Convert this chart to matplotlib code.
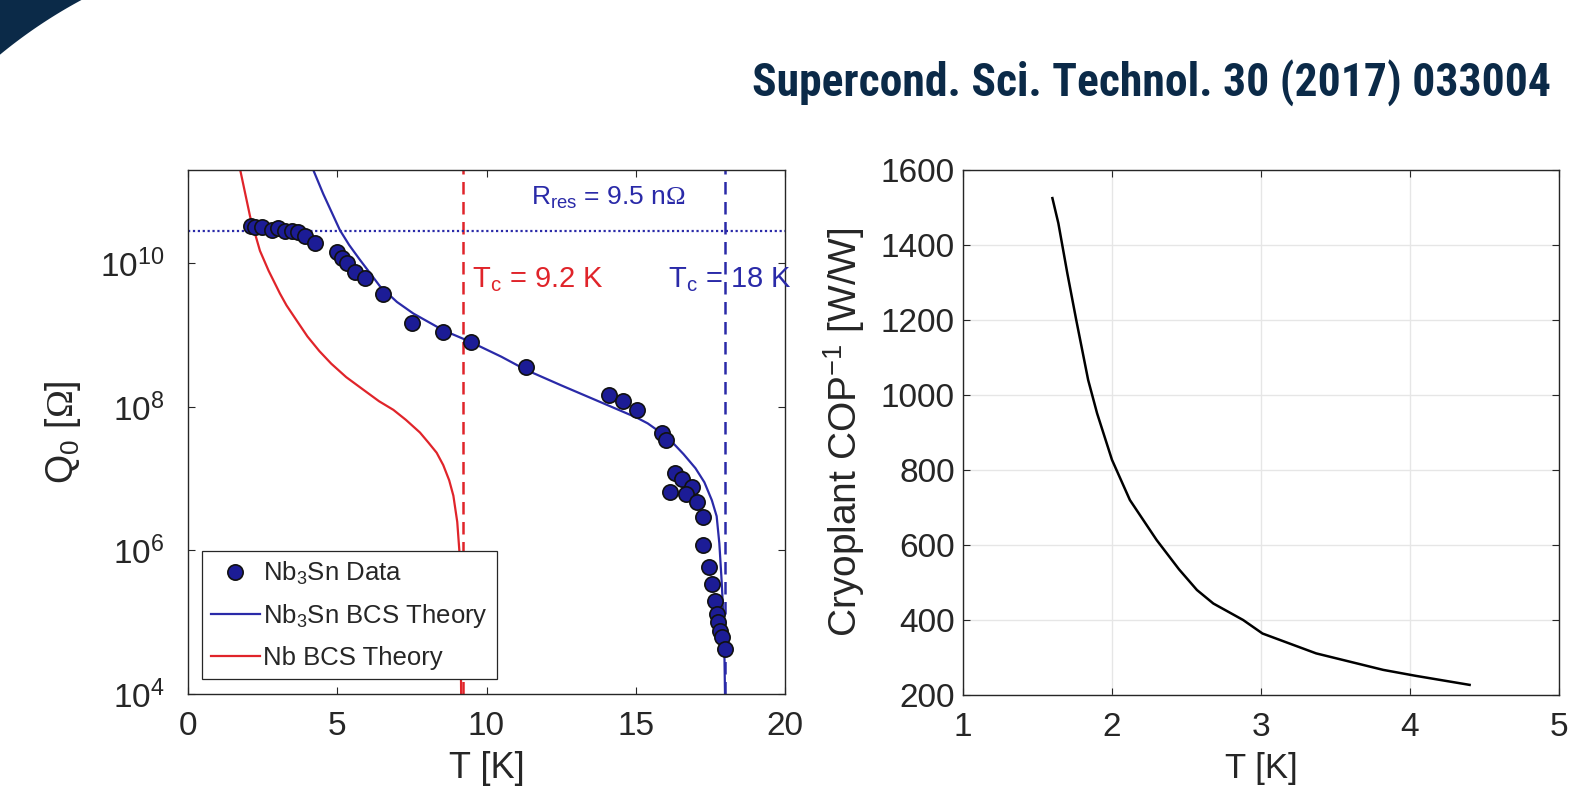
# Two panels: Q0 vs T for Nb3Sn / Nb (log scale) and cryoplant inverse COP vs T.

import numpy as np
import matplotlib
matplotlib.use("Agg")
import matplotlib.pyplot as plt
from matplotlib import font_manager
from matplotlib.patches import Polygon

# =========================
# 1) DATA (read off the picture)
# =========================
# Nb3Sn measured points
T_DATA = [2.11, 2.24, 2.47, 2.80, 3.03, 3.25, 3.47, 3.70, 3.92, 4.25,
          4.98, 5.15, 5.31, 5.60, 5.93, 6.52, 7.49, 8.55, 9.47, 11.31,
          14.10, 14.58, 15.03, 15.87, 16.03, 16.31, 16.54, 16.15, 16.87, 16.70,
          17.06, 17.24, 17.24, 17.46, 17.57, 17.65, 17.73, 17.76, 17.82, 17.88,
          17.99]
Q_DATA = [3.3e10, 3.2e10, 3.2e10, 2.9e10, 3.1e10, 2.8e10, 2.8e10, 2.75e10, 2.4e10, 1.9e10,
          1.45e10, 1.17e10, 1.0e10, 7.6e9, 6.3e9, 3.8e9, 1.5e9, 1.1e9, 7.9e8, 3.6e8,
          1.48e8, 1.2e8, 9.1e7, 4.4e7, 3.5e7, 1.2e7, 1.0e7, 6.5e6, 7.6e6, 6.2e6,
          4.8e6, 2.9e6, 1.2e6, 5.8e5, 3.4e5, 2.0e5, 1.3e5, 1.0e5, 7.6e4, 6.2e4,
          4.3e4]

# Nb3Sn BCS theory curve
T_NB3SN = [4.10, 4.53, 5.09, 5.40, 5.76, 6.10, 6.43, 7.00, 7.55, 8.55,
           9.45, 10.5, 11.31, 12.5, 14.03, 15.03, 15.40, 15.80, 16.20, 16.60,
           17.00, 17.30, 17.55, 17.71, 17.80, 17.88, 17.96, 17.99]
Q_NB3SN = [2.5e11, 9.3e10, 2.9e10, 1.8e10, 1.12e10, 7.3e9, 4.8e9, 2.9e9, 2.0e9, 1.17e9,
           8.1e8, 5.0e8, 3.3e8, 2.0e8, 1.07e8, 7.1e7, 5.9e7, 4.5e7, 3.3e7, 2.2e7,
           1.4e7, 8.9e6, 5.0e6, 3.0e6, 1.26e6, 3.6e5, 7.2e4, 1.0e4]

# Nb BCS theory curve
T_NB = [1.70, 2.08, 2.41, 2.70, 3.08, 3.30, 3.64, 4.00, 4.40, 4.80,
        5.30, 5.87, 6.40, 6.88, 7.30, 7.77, 8.05, 8.33, 8.55, 8.75,
        8.89, 9.02, 9.09, 9.13, 9.15]
Q_NB = [2.5e11, 4.5e10, 1.5e10, 7.9e9, 3.8e9, 2.6e9, 1.6e9, 9.6e8, 6.0e8, 4.0e8,
        2.6e8, 1.74e8, 1.2e8, 9.1e7, 6.6e7, 4.4e7, 3.2e7, 2.3e7, 1.55e7, 9.5e6,
        5.8e6, 2.5e6, 1.0e6, 1.0e5, 1.0e4]

TC_NB = 9.2
TC_NB3SN = 18.0
Q_RES = 2.84e10

# Cryoplant inverse COP
T_COP = [1.60, 1.64, 1.70, 1.76, 1.84, 1.90, 2.00, 2.12, 2.30, 2.45,
         2.57, 2.68, 2.88, 3.01, 3.37, 3.82, 4.04, 4.40]
COP_INV = [1525, 1458, 1325, 1200, 1040, 951, 827, 720, 613, 535,
           480, 444, 400, 364, 311, 267, 251, 227]

TITLE = "Supercond. Sci. Technol. 30 (2017) 033004"

# =========================
# 2) STYLE
# =========================
W, H = 1590, 809
NAVY = "#0b2a48"
BLUE = "#2a2aa8"
MARKER_BLUE = "#1c1c96"
RED = "#e0242a"
AX_GRAY = "#262626"

plt.rcParams["font.family"] = ["Liberation Sans", "DejaVu Sans"]
plt.rcParams["mathtext.fontset"] = "custom"
plt.rcParams["mathtext.rm"] = "Liberation Sans"
plt.rcParams["mathtext.it"] = "Liberation Sans:italic"
plt.rcParams["mathtext.sf"] = "Liberation Serif"
plt.rcParams["axes.edgecolor"] = AX_GRAY
plt.rcParams["xtick.color"] = AX_GRAY
plt.rcParams["ytick.color"] = AX_GRAY


def pick_condensed():
    names = {f.name for f in font_manager.fontManager.ttflist}
    for cand in ["Liberation Sans Narrow", "Roboto Condensed", "Open Sans Condensed",
                 "DejaVu Sans Condensed"]:
        if cand in names:
            return cand
    return "DejaVu Sans"


def style_axes(ax, ypad):
    ax.tick_params(direction="in", top=True, right=True, length=5, width=0.8,
                   labelsize=24)
    ax.tick_params(axis="x", pad=12)
    ax.tick_params(axis="y", pad=ypad)
    for sp in ax.spines.values():
        sp.set_linewidth(1.0)


fig = plt.figure(figsize=(W / 100, H / 100), dpi=100)

# corner decoration (top-left arc)
r = 500
ang = np.linspace(np.radians(118.2), np.radians(129.6), 40)
arc = np.column_stack([(318 + r * np.cos(ang)) / W, (H - 440.5 + r * np.sin(ang)) / H])
corner = np.vstack([[[0, 1]], arc, [[0, 1]]])
fig.patches.append(Polygon(corner, closed=True, transform=fig.transFigure,
                           facecolor=NAVY, edgecolor="none", zorder=0))

# =========================
# 3) LEFT PANEL: Q0 vs T
# =========================
ax1 = fig.add_axes([188 / W, 1 - 694 / H, 597 / W, 524 / H])
ax1.set_yscale("log")
ax1.plot(T_NB, Q_NB, color=RED, lw=1.6, label="Nb BCS Theory", zorder=2)
ax1.plot(T_NB3SN, Q_NB3SN, color=BLUE, lw=1.6, label="Nb$_3$Sn BCS Theory", zorder=2)
ax1.plot(T_DATA, Q_DATA, "o", ms=11, markerfacecolor=MARKER_BLUE,
         markeredgecolor="#111111", markeredgewidth=1.2, label="Nb$_3$Sn Data", zorder=3)
ax1.axvline(TC_NB, color=RED, lw=1.8, ls=(0, (5, 3)), zorder=1)
ax1.axvline(TC_NB3SN, color=BLUE, lw=1.8, ls=(0, (5, 3)), zorder=1)
ax1.axhline(Q_RES, color=BLUE, lw=1.6, ls=(0, (1, 1.2)), zorder=1)

ax1.text(531 / W, 1 - 205 / H, "R$_{\\mathrm{res}}$ = 9.5 n$\\mathsf{\\Omega}$",
         transform=fig.transFigure, color=BLUE, fontsize=19, va="baseline")
ax1.text(472 / W, 1 - 287 / H, "T$_\\mathrm{c}$ = 9.2 K",
         transform=fig.transFigure, color=RED, fontsize=21, va="baseline")
ax1.text(668 / W, 1 - 287 / H, "T$_\\mathrm{c}$ = 18 K",
         transform=fig.transFigure, color=BLUE, fontsize=21, va="baseline")

ax1.set_xlim(0, 20)
ax1.set_ylim(1e4, 2e11)
ax1.set_xticks([0, 5, 10, 15, 20])
ax1.set_yticks([1e4, 1e6, 1e8, 1e10])
ax1.minorticks_off()
ax1.set_xlabel("T [K]", fontsize=26, color=AX_GRAY, labelpad=7)
ax1.set_ylabel("Q$_0$ [$\\mathsf{\\Omega}$]", fontsize=27, color=AX_GRAY, labelpad=12)
style_axes(ax1, ypad=17)

handles, labels = ax1.get_legend_handles_labels()
order = [2, 1, 0]
leg = ax1.legend([handles[i] for i in order], [labels[i] for i in order],
                 loc="lower left", bbox_to_anchor=(0.023, 0.029), borderaxespad=0,
                 fontsize=18.5, fancybox=False, framealpha=1, edgecolor=AX_GRAY,
                 handlelength=1.9, handletextpad=0.15, borderpad=0.35, labelspacing=0.6)
leg.get_frame().set_linewidth(0.9)
for t in leg.get_texts():
    t.set_color(AX_GRAY)

# =========================
# 4) RIGHT PANEL: Cryoplant COP^-1 vs T
# =========================
ax2 = fig.add_axes([963 / W, 1 - 695 / H, 596 / W, 525 / H])
ax2.plot(T_COP, COP_INV, color="black", lw=1.8)
ax2.set_xlim(1, 5)
ax2.set_ylim(200, 1600)
ax2.set_xticks([1, 2, 3, 4, 5])
ax2.set_yticks(np.arange(200, 1601, 200))
ax2.grid(True, color="#e6e6e6", lw=1.0)
ax2.set_axisbelow(True)
ax2.set_xlabel("T [K]", fontsize=25, color=AX_GRAY, labelpad=7)
ax2.set_ylabel("Cryoplant COP$^{-1}$ [W/W]", fontsize=28, color=AX_GRAY, labelpad=10)
style_axes(ax2, ypad=6)

# =========================
# 5) TITLE (condensed, fit to width)
# =========================
title = fig.text(1551 / W, 1 - 96 / H, TITLE, ha="right", va="baseline",
                 fontsize=44, fontweight="bold", color=NAVY,
                 family=pick_condensed(), fontstretch="condensed")
fig.canvas.draw()
bb = title.get_window_extent(fig.canvas.get_renderer())
title.set_fontsize(44 * min(1.0, 798 / bb.width))

fig.savefig("out.png", dpi=100)
